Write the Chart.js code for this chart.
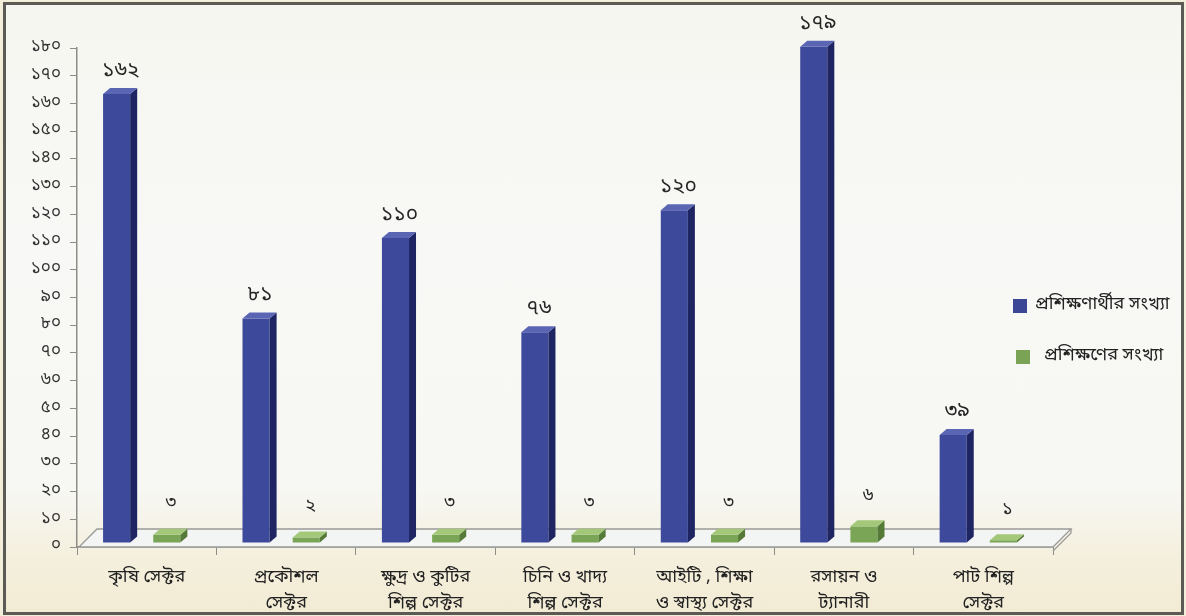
<!DOCTYPE html>
<html><head><meta charset="utf-8">
<script src="https://cdn.jsdelivr.net/npm/chart.js@4"></script>
<style>
html,body{margin:0;padding:0;width:1186px;height:616px;overflow:hidden;background:#f3eed9;}
#frame{position:absolute;left:3px;top:2px;width:1175px;height:607px;border:3px solid #5b5a55;
  background:linear-gradient(180deg,#f6f6f1 0%,#f8f8f6 40%,#f7f7f3 80%,#f4efdc 92%,#f2ebd4 100%);}
#wrap{position:absolute;left:0;top:0;width:1186px;height:616px;}
.leg{position:absolute;font-size:18px;font-family:'Noto Sans Bengali','Lohit Bengali','FreeSans',sans-serif;color:#222;white-space:nowrap;}
.sw{position:absolute;width:14px;height:14px;}
</style></head>
<body>
<div id="frame"></div>
<div id="wrap"><canvas id="c" width="1186" height="616"></canvas></div>
<div class="sw" style="left:1013px;top:299px;background:#3b4796;"></div>
<div class="leg" id="leg0" style="left:1035px;top:292px;"></div>
<div class="sw" style="left:1016px;top:350px;background:#7ba356;"></div>
<div class="leg" id="leg1" style="left:1044px;top:343px;"></div>
<script>
const categories = [
  ['কৃষি সেক্টর', ''],
  ['প্রকৌশল', 'সেক্টর'],
  ['ক্ষুদ্র ও কুটির', 'শিল্প সেক্টর'],
  ['চিনি ও খাদ্য', 'শিল্প সেক্টর'],
  ['আইটি , শিক্ষা', 'ও স্বাস্থ্য সেক্টর'],
  ['রসায়ন ও', 'ট্যানারী'],
  ['পাট শিল্প', 'সেক্টর']
];
const seriesNames = ['প্রশিক্ষণার্থীর সংখ্যা', 'প্রশিক্ষণের সংখ্যা'];
const traineeCounts = [162, 81, 110, 76, 120, 179, 39];
const trainingCounts = [3, 2, 3, 3, 3, 6, 1];
const yTickLabels = ['০','১০','২০','৩০','৪০','৫০','৬০','৭০','৮০','৯০','১০০','১১০','১২০','১৩০','১৪০','১৫০','১৬০','১৭০','১৮০'];
const bnDigits = ['০','১','২','৩','৪','৫','৬','৭','৮','৯'];

const FONT = "'Noto Sans Bengali','Lohit Bengali','FreeSans',sans-serif";
const toBn = n => String(n).split('').map(d => bnDigits[+d] ?? d).join('');

document.getElementById('leg0').textContent = seriesNames[0];
document.getElementById('leg1').textContent = seriesNames[1];

const colors = [
  {front:'#3d4a9b', side:'#1e2562', top:'#5a66b3'},
  {front:'#7aa556', side:'#557a37', top:'#a4c87a'}
];

const depthPlugin = {
  id:'depth3d',
  beforeDatasetsDraw(chart){
    const {ctx, chartArea:a} = chart;
    const dx = 18, dy = 18;
    ctx.save();
    ctx.beginPath();
    ctx.moveTo(a.left+2, a.bottom);
    ctx.lineTo(a.left+2+dx, a.bottom-dy);
    ctx.lineTo(a.right+dx, a.bottom-dy);
    ctx.lineTo(a.right, a.bottom);
    ctx.closePath();
    ctx.fillStyle = '#f3f4f4';
    ctx.fill();
    ctx.strokeStyle = '#9a9a96';
    ctx.lineWidth = 1.3;
    ctx.stroke();
    ctx.beginPath();
    ctx.moveTo(a.right+dx, a.bottom-dy);
    ctx.lineTo(a.right+dx, a.bottom-dy+4);
    ctx.lineTo(a.right, a.bottom+4);
    ctx.stroke();
    ctx.restore();
    ctx.save();
    ctx.translate(-5, -4);
  },
  afterDatasetsDraw(chart){
    const ctx = chart.ctx;
    const d = 7, dy = 6;
    chart.data.datasets.forEach((ds, i) => {
      const meta = chart.getDatasetMeta(i);
      const c = colors[i];
      meta.data.forEach((bar, j) => {
        const {x, y, base, width} = bar.getProps(['x','y','base','width'], true);
        const l = x - width/2, r = x + width/2;
        ctx.fillStyle = c.side;
        ctx.beginPath();
        ctx.moveTo(r, y); ctx.lineTo(r+d, y-dy); ctx.lineTo(r+d, base-dy); ctx.lineTo(r, base);
        ctx.closePath(); ctx.fill();
        ctx.fillStyle = c.top;
        ctx.beginPath();
        ctx.moveTo(l, y); ctx.lineTo(l+d, y-dy); ctx.lineTo(r+d, y-dy); ctx.lineTo(r, y);
        ctx.closePath(); ctx.fill();
        ctx.fillStyle = '#262626';
        ctx.textAlign = 'center';
        ctx.textBaseline = 'middle';
        ctx.font = (i === 0 ? '21px ' : '18px ') + FONT;
        ctx.fillText(toBn(ds.data[j]), x + 4, y - (i === 0 ? 22 : 30));
      });
    });
    ctx.restore();
  }
};

new Chart(document.getElementById('c'), {
  type:'bar',
  data:{
    labels: categories,
    datasets:[
      {label: seriesNames[0], data: traineeCounts, backgroundColor: colors[0].front,
       categoryPercentage:0.72, barPercentage:0.54},
      {label: seriesNames[1], data: trainingCounts, backgroundColor: colors[1].front,
       categoryPercentage:0.72, barPercentage:0.54}
    ]
  },
  options:{
    responsive:false,
    animation:false,
    devicePixelRatio:1,
    layout:{padding:{left:0, right:133, top:48, bottom:0}},
    plugins:{legend:{display:false}, tooltip:{enabled:false}},
    scales:{
      x:{
        grid:{offset:true, drawOnChartArea:false, tickLength:8, color:'#8d8d88'},
        border:{color:'#8d8d88', width:1.5},
        ticks:{font:{family:FONT, size:18, lineHeight:1.42}, color:'#222', padding:11, maxRotation:0, autoSkip:false},
        afterFit(s){ s.height = 69; }
      },
      y:{
        min:0, max:180,
        grid:{drawOnChartArea:false, tickLength:7, color:'#8d8d88'},
        border:{color:'#8d8d88', width:1.5},
        ticks:{stepSize:10, font:{family:FONT, size:17}, color:'#333', padding:9,
          callback:(v) => yTickLabels[Math.round(v/10)]},
        afterFit(s){ s.width = 77; }
      }
    }
  },
  plugins:[depthPlugin]
});
</script>
</body></html>
